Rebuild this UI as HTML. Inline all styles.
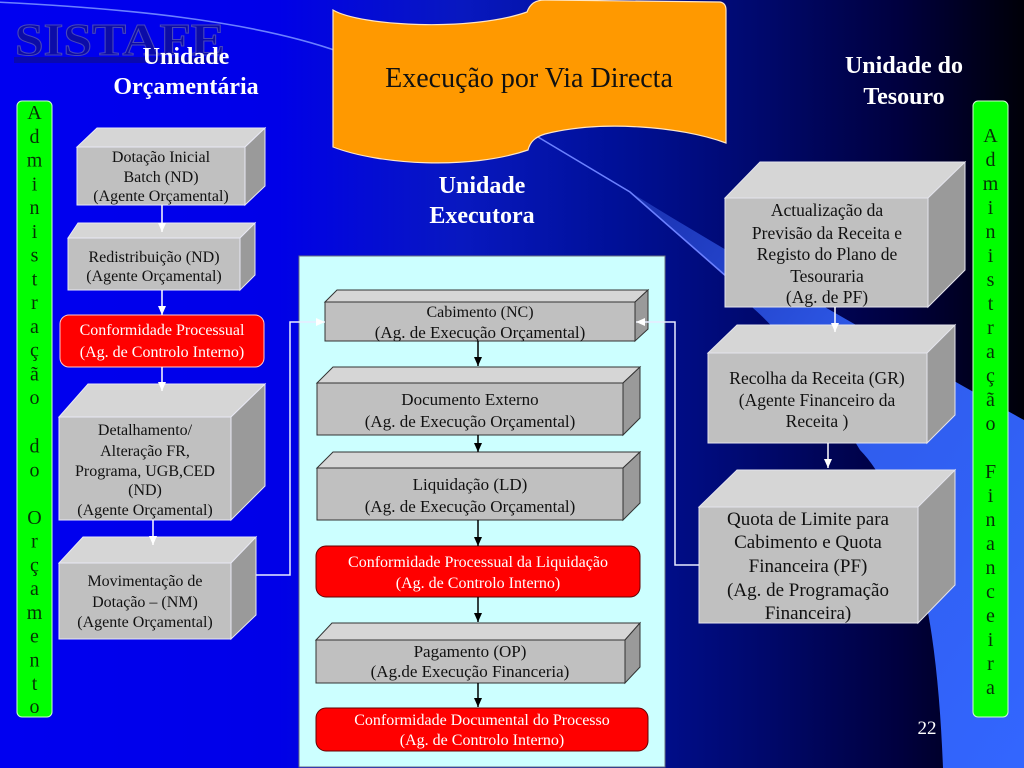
<!DOCTYPE html>
<html>
<head>
<meta charset="utf-8">
<style>
html,body{margin:0;padding:0;width:1024px;height:768px;overflow:hidden;background:#000080;}
svg{display:block;}
text{font-family:"Liberation Serif","DejaVu Serif",serif;}
</style>
</head>
<body>
<svg width="1024" height="768" viewBox="0 0 1024 768" xmlns="http://www.w3.org/2000/svg">
<defs>
<linearGradient id="bg" x1="0" y1="0" x2="1" y2="0">
<stop offset="0" stop-color="#0000f0"/>
<stop offset="0.27" stop-color="#0000e8"/>
<stop offset="0.45" stop-color="#0818c0"/>
<stop offset="0.60" stop-color="#001098"/>
<stop offset="0.75" stop-color="#00086a"/>
<stop offset="0.88" stop-color="#00003e"/>
<stop offset="1" stop-color="#000008"/>
</linearGradient>
<linearGradient id="sw" x1="0" y1="0" x2="1" y2="1">
<stop offset="0" stop-color="#1a30b0"/>
<stop offset="0.45" stop-color="#2f5cec"/>
<stop offset="1" stop-color="#3366ff"/>
</linearGradient>
<marker id="aw" markerWidth="10" markerHeight="10" refX="9" refY="5" orient="auto" markerUnits="userSpaceOnUse">
<path d="M0,1 L9,5 L0,9 Z" fill="#ffffff"/>
</marker>
<marker id="ab" markerWidth="10" markerHeight="10" refX="9" refY="5" orient="auto" markerUnits="userSpaceOnUse">
<path d="M0,1 L9,5 L0,9 Z" fill="#000000"/>
</marker>
</defs>

<!-- background -->
<rect x="0" y="0" width="1024" height="768" fill="url(#bg)"/>

<!-- swoosh band -->
<path d="M630,192 C 700,235 780,282 830,310 C 900,350 960,385 1024,420 L1024,768 L943,768 C 940,690 932,610 915,560 C 900,510 880,470 860,450 C 830,400 790,340 753,308 L727,277 Z" fill="url(#sw)"/>
<path d="M-5,2 C 120,8 250,20 340,52" fill="none" stroke="#6b80ff" stroke-width="1.6"/>
<path d="M538,137 L630,192 L727,277" fill="none" stroke="#6b80ff" stroke-width="1.6"/>

<!-- SISTAFE logo -->
<rect x="14" y="57" width="212" height="6" fill="#0b0ba0" opacity="0.8"/>
<text x="15" y="55" font-size="46" font-weight="bold" textLength="210" lengthAdjust="spacingAndGlyphs" fill="#0c0ca8" stroke="#4848b8" stroke-width="1">SISTAFE</text>

<!-- orange banner -->
<path d="M333,10 C 360,26 470,32 527,12 C 530,4 535,0 545,0 L720,2 Q726,3 726,10 L726,143 C 680,126 600,120 545,134 C 535,137 530,142 528,150 C 470,170 380,165 333,147 Z" fill="#ff9900" stroke="#ffe6c4" stroke-width="1.2"/>
<text x="529" y="87" font-size="28" text-anchor="middle" fill="#111">Execução por Via Directa</text>

<!-- headers -->
<g font-weight="bold" font-size="24" fill="#ffffff" text-anchor="middle">
<text x="186" y="64">Unidade</text>
<text x="186" y="94">Orçamentária</text>
<text x="482" y="193">Unidade</text>
<text x="482" y="223">Executora</text>
<text x="904" y="73">Unidade do</text>
<text x="904" y="104">Tesouro</text>
</g>

<!-- green bars -->
<rect x="17" y="101" width="35" height="616" rx="5" fill="#00ff00" stroke="#d0ffd0" stroke-width="1"/>
<rect x="973" y="101" width="35" height="616" rx="5" fill="#00ff00" stroke="#d0ffd0" stroke-width="1"/>
<g font-size="20" fill="#063006" text-anchor="middle">
<text x="34.5" y="119">A</text><text x="34.5" y="142.8">d</text><text x="34.5" y="166.5">m</text><text x="34.5" y="190.3">i</text><text x="34.5" y="214">n</text><text x="34.5" y="237.8">i</text><text x="34.5" y="261.6">s</text><text x="34.5" y="285.3">t</text><text x="34.5" y="309.1">r</text><text x="34.5" y="332.8">a</text><text x="34.5" y="356.6">ç</text><text x="34.5" y="380.4">ã</text><text x="34.5" y="404.1">o</text>
<text x="34.5" y="452.6">d</text><text x="34.5" y="476.4">o</text>
<text x="34.5" y="523.9">O</text><text x="34.5" y="547.7">r</text><text x="34.5" y="571.4">ç</text><text x="34.5" y="595.2">a</text><text x="34.5" y="619">m</text><text x="34.5" y="642.7">e</text><text x="34.5" y="666.5">n</text><text x="34.5" y="690.2">t</text><text x="34.5" y="713">o</text>

<text x="990.5" y="142">A</text><text x="990.5" y="166">d</text><text x="990.5" y="190">m</text><text x="990.5" y="214">i</text><text x="990.5" y="238">n</text><text x="990.5" y="262">i</text><text x="990.5" y="286">s</text><text x="990.5" y="310">t</text><text x="990.5" y="334">r</text><text x="990.5" y="358">a</text><text x="990.5" y="382">ç</text><text x="990.5" y="406">ã</text><text x="990.5" y="430">o</text>
<text x="990.5" y="478">F</text><text x="990.5" y="502">i</text><text x="990.5" y="526">n</text><text x="990.5" y="550">a</text><text x="990.5" y="574">n</text><text x="990.5" y="598">c</text><text x="990.5" y="622">e</text><text x="990.5" y="646">i</text><text x="990.5" y="670">r</text><text x="990.5" y="694">a</text>
</g>

<!-- center panel -->
<rect x="299" y="256" width="366" height="511" fill="#ccffff" stroke="#6a7080" stroke-width="1"/>

<!-- LEFT COLUMN BOXES -->
<g stroke="#e8e8f4" stroke-width="1">
<polygon points="77,147 97,128 265,128 245,147" fill="#d6d6d6"/>
<polygon points="245,147 265,128 265,186 245,205" fill="#9a9a9a"/>
<rect x="77" y="147" width="168" height="58" fill="#c0c0c0"/>
<polygon points="68,238 78,223 255,223 240,238" fill="#d6d6d6"/>
<polygon points="240,238 255,223 255,275 240,290" fill="#9a9a9a"/>
<rect x="68" y="238" width="172" height="52" fill="#c0c0c0"/>
<polygon points="59,417 88,384 265,384 231,417" fill="#d6d6d6"/>
<polygon points="231,417 265,384 265,486 231,520" fill="#9a9a9a"/>
<rect x="59" y="417" width="172" height="103" fill="#c0c0c0"/>
<polygon points="59,563 83,537 256,537 231,563" fill="#d6d6d6"/>
<polygon points="231,563 256,537 256,615 231,639" fill="#9a9a9a"/>
<rect x="59" y="563" width="172" height="76" fill="#c0c0c0"/>
</g>
<rect x="60" y="315" width="204" height="52" rx="9" fill="#ff0000" stroke="#ffc8c8" stroke-width="1"/>

<g font-size="16" fill="#111" text-anchor="middle">
<text x="161" y="162">Dotação Inicial</text>
<text x="161" y="182">Batch (ND)</text>
<text x="161" y="201">(Agente Orçamental)</text>
<text x="154" y="262">Redistribuição (ND)</text>
<text x="154" y="281">(Agente Orçamental)</text>
<text x="145" y="435">Detalhamento/</text>
<text x="145" y="456">Alteração FR,</text>
<text x="145" y="476">Programa, UGB,CED</text>
<text x="145" y="495">(ND)</text>
<text x="145" y="515">(Agente Orçamental)</text>
<text x="145" y="586">Movimentação de</text>
<text x="145" y="607">Dotação – (NM)</text>
<text x="145" y="627">(Agente Orçamental)</text>
</g>
<g font-size="16" fill="#ffffff" text-anchor="middle">
<text x="162" y="335">Conformidade Processual</text>
<text x="162" y="357">(Ag. de Controlo Interno)</text>
</g>

<!-- left arrows -->
<g stroke="#ffffff" stroke-width="1.5" fill="none">
<line x1="162" y1="205" x2="162" y2="232" marker-end="url(#aw)"/>
<line x1="162" y1="290" x2="162" y2="315" marker-end="url(#aw)"/>
<line x1="162" y1="367" x2="162" y2="391" marker-end="url(#aw)"/>
<line x1="153" y1="520" x2="153" y2="545" marker-end="url(#aw)"/>
</g>

<!-- CENTER BOXES -->
<g stroke="#333333" stroke-width="1">
<polygon points="325,302 337,290 648,290 635,302" fill="#d6d6d6"/>
<polygon points="635,302 648,290 648,329 635,341" fill="#9a9a9a"/>
<rect x="325" y="302" width="310" height="39" fill="#c0c0c0"/>

<polygon points="317,383 333,367 640,367 623,383" fill="#d6d6d6"/>
<polygon points="623,383 640,367 640,418 623,435" fill="#9a9a9a"/>
<rect x="317" y="383" width="306" height="52" fill="#c0c0c0"/>

<polygon points="317,468 333,452 640,452 623,468" fill="#d6d6d6"/>
<polygon points="623,468 640,452 640,503 623,520" fill="#9a9a9a"/>
<rect x="317" y="468" width="306" height="52" fill="#c0c0c0"/>

<polygon points="316,640 332,623 640,623 625,640" fill="#d6d6d6"/>
<polygon points="625,640 640,623 640,667 625,683" fill="#9a9a9a"/>
<rect x="316" y="640" width="309" height="43" fill="#c0c0c0"/>
</g>
<rect x="316" y="546" width="324" height="51" rx="10" fill="#ff0000" stroke="#660000" stroke-width="1"/>
<rect x="316" y="708" width="332" height="43" rx="10" fill="#ff0000" stroke="#660000" stroke-width="1"/>

<g font-size="17" fill="#111" text-anchor="middle">
<text x="480" y="317" font-size="16">Cabimento (NC)</text>
<text x="480" y="338">(Ag. de Execução Orçamental)</text>
<text x="470" y="405">Documento Externo</text>
<text x="470" y="427">(Ag. de Execução Orçamental)</text>
<text x="470" y="490">Liquidação (LD)</text>
<text x="470" y="512">(Ag. de Execução Orçamental)</text>
<text x="470" y="657">Pagamento (OP)</text>
<text x="470" y="677">(Ag.de Execução Financeria)</text>
</g>
<g font-size="16" fill="#ffffff" text-anchor="middle">
<text x="478" y="567">Conformidade Processual da Liquidação</text>
<text x="478" y="588">(Ag. de Controlo Interno)</text>
<text x="482" y="725">Conformidade Documental do Processo</text>
<text x="482" y="745">(Ag. de Controlo Interno)</text>
</g>

<!-- center arrows -->
<g stroke="#000000" stroke-width="1.5">
<line x1="478" y1="341" x2="478" y2="366" marker-end="url(#ab)"/>
<line x1="478" y1="435" x2="478" y2="452" marker-end="url(#ab)"/>
<line x1="478" y1="520" x2="478" y2="546" marker-end="url(#ab)"/>
<line x1="478" y1="597" x2="478" y2="622" marker-end="url(#ab)"/>
<line x1="478" y1="683" x2="478" y2="707" marker-end="url(#ab)"/>
</g>

<!-- RIGHT COLUMN BOXES -->
<g stroke="#e4e4ec" stroke-width="1">
<polygon points="725,198 760,162 965,162 928,198" fill="#d6d6d6"/>
<polygon points="928,198 965,162 965,270 928,307" fill="#9a9a9a"/>
<rect x="725" y="198" width="203" height="109" fill="#c0c0c0"/>

<polygon points="708,353 737,325 955,325 927,353" fill="#d6d6d6"/>
<polygon points="927,353 955,325 955,415 927,443" fill="#9a9a9a"/>
<rect x="708" y="353" width="219" height="90" fill="#c0c0c0"/>

<polygon points="699,507 737,470 955,470 918,507" fill="#d6d6d6"/>
<polygon points="918,507 955,470 955,585 918,623" fill="#9a9a9a"/>
<rect x="699" y="507" width="219" height="116" fill="#c0c0c0"/>
</g>
<g font-size="17.5" fill="#111" text-anchor="middle">
<text x="827" y="216">Actualização da</text>
<text x="827" y="239">Previsão da Receita e</text>
<text x="827" y="260">Registo do Plano de</text>
<text x="827" y="282">Tesouraria</text>
<text x="827" y="303">(Ag. de PF)</text>
<text x="817" y="384">Recolha da Receita (GR)</text>
<text x="817" y="406">(Agente Financeiro da</text>
<text x="817" y="427">Receita )</text>
</g>
<g font-size="19" fill="#111" text-anchor="middle">
<text x="808" y="525">Quota de Limite para</text>
<text x="808" y="548">Cabimento e Quota</text>
<text x="808" y="572">Financeira (PF)</text>
<text x="808" y="596">(Ag. de Programação</text>
<text x="808" y="619">Financeira)</text>
</g>

<!-- right arrows -->
<g stroke="#ffffff" stroke-width="1.5" fill="none">
<line x1="835" y1="307" x2="835" y2="332" marker-end="url(#aw)"/>
<line x1="828" y1="443" x2="828" y2="468" marker-end="url(#aw)"/>
</g>

<!-- connectors -->
<g stroke="#e8ecff" stroke-width="1.5" fill="none">
<polyline points="256,575 290,575 290,322 325,322" marker-end="url(#aw)"/>
<polyline points="699,565 675,565 675,322 636,322" marker-end="url(#aw)"/>
</g>

<!-- slide number -->
<text x="927" y="734" font-size="19" fill="#ffffff" text-anchor="middle">22</text>
</svg>
</body>
</html>
